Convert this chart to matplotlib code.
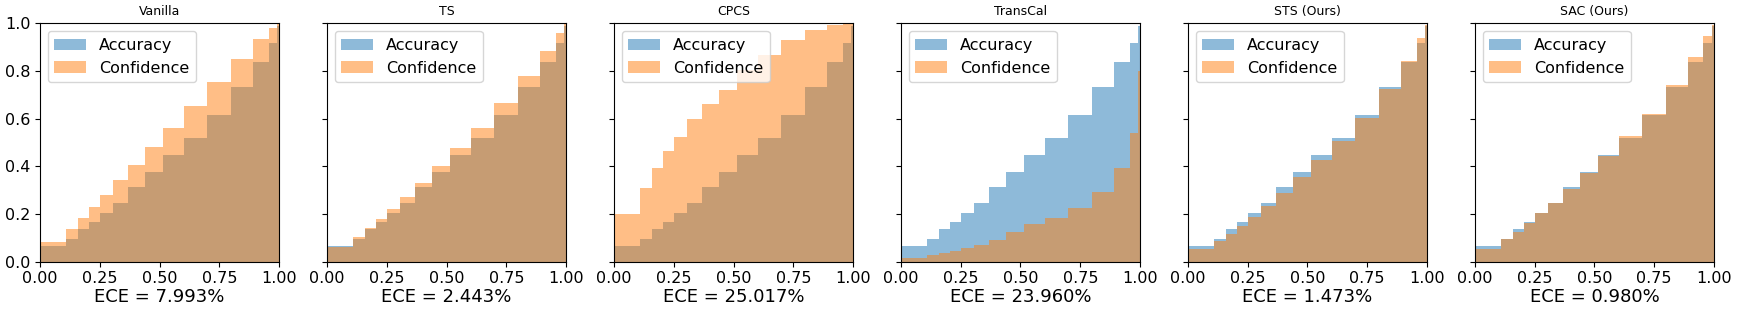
import numpy as np
import matplotlib
matplotlib.use('Agg')
import matplotlib.pyplot as plt

# bin edges (same for every method)
edges = [0.0, 0.109, 0.159, 0.205, 0.253, 0.305, 0.368, 0.439, 0.514, 0.602,
         0.698, 0.798, 0.890, 0.956, 0.991, 1.0]

# per-bin accuracy (identical for all methods)
accuracy = [0.066, 0.095, 0.137, 0.167, 0.205, 0.247, 0.313, 0.376, 0.448, 0.520,
            0.615, 0.734, 0.839, 0.917, 0.987]

methods = ['Vanilla', 'TS', 'CPCS', 'TransCal', 'STS (Ours)', 'SAC (Ours)']
ece = ['7.993', '2.443', '25.017', '23.960', '1.473', '0.980']

conf_vanilla = [0.081, 0.137, 0.183, 0.229, 0.280, 0.343, 0.407, 0.483, 0.562, 0.653,
                0.754, 0.852, 0.935, 0.980, 0.997]
conf_ts = [0.060, 0.103, 0.141, 0.179, 0.221, 0.271, 0.330, 0.401, 0.477, 0.561,
           0.666, 0.779, 0.884, 0.958, 0.998]
conf_cpcs = [0.200, 0.309, 0.393, 0.464, 0.522, 0.599, 0.660, 0.719, 0.804, 0.867,
             0.930, 0.972, 0.993, 1.0, 1.0]
conf_transcal = [0.017, 0.028, 0.036, 0.045, 0.059, 0.070, 0.092, 0.124, 0.158, 0.183,
                 0.227, 0.292, 0.393, 0.540, 0.800]
conf_sts = [0.052, 0.087, 0.117, 0.151, 0.187, 0.235, 0.288, 0.357, 0.428, 0.508,
            0.604, 0.724, 0.842, 0.938, 0.993]
conf_sac = [0.052, 0.095, 0.126, 0.164, 0.204, 0.246, 0.306, 0.373, 0.445, 0.527,
            0.620, 0.741, 0.859, 0.947, 0.993]
confidences = [conf_vanilla, conf_ts, conf_cpcs, conf_transcal, conf_sts, conf_sac]

e = np.array(edges)
left = e[:-1]
width = np.diff(e)

fig, axes = plt.subplots(1, 6, figsize=(17.38, 3.13), dpi=100, sharey=True)
plt.subplots_adjust(left=0.023, right=0.9862, top=0.9255, bottom=0.164, wspace=0.2)

for ax, name, conf, val in zip(axes, methods, confidences, ece):
    ax.bar(left, accuracy, width=width, align='edge', alpha=0.5, color='C0', label='Accuracy')
    ax.bar(left, conf, width=width, align='edge', alpha=0.5, color='C1', label='Confidence')
    ax.set_xlim(0, 1)
    ax.set_ylim(0, 1)
    ax.set_xticks([0, 0.25, 0.5, 0.75, 1.0])
    ax.set_xticklabels(['0.00', '0.25', '0.50', '0.75', '1.00'])
    ax.tick_params(labelsize=11.5)
    ax.set_title(name, fontsize=9)
    ax.set_xlabel('ECE = ' + val + '%', fontsize=13, labelpad=1)
    ax.legend(loc='upper left', fontsize=11.5)

axes[0].set_yticks([0, 0.2, 0.4, 0.6, 0.8, 1.0])
plt.savefig('out.png')
